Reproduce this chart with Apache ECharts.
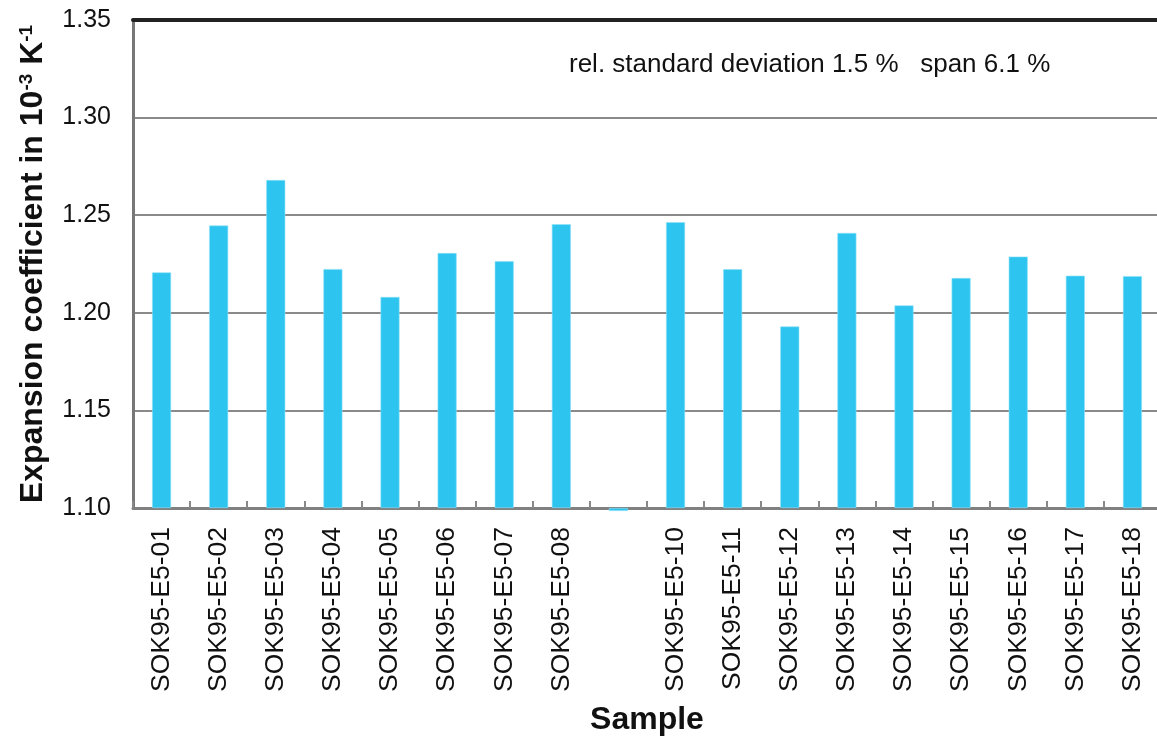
<!DOCTYPE html>
<html>
<head>
<meta charset="utf-8">
<script src="https://cdn.jsdelivr.net/npm/echarts@6/dist/echarts.min.js"></script>
<style>html,body{margin:0;padding:0;background:#fff;}#c{width:1157px;height:736px;}</style>
</head>
<body>
<div id="c"></div>
<script>
var categories = ['SOK95-E5-01','SOK95-E5-02','SOK95-E5-03','SOK95-E5-04','SOK95-E5-05','SOK95-E5-06','SOK95-E5-07','SOK95-E5-08','','SOK95-E5-10','SOK95-E5-11','SOK95-E5-12','SOK95-E5-13','SOK95-E5-14','SOK95-E5-15','SOK95-E5-16','SOK95-E5-17','SOK95-E5-18'];
var values = [1.2207,1.2447,1.2680,1.2224,1.2081,1.2306,1.2264,1.2454,1.0985,1.2464,1.2223,1.1930,1.2409,1.2038,1.2178,1.2288,1.2190,1.2188];
var yTicks = [1.10,1.15,1.20,1.25,1.30,1.35];
var annotation = 'rel. standard deviation 1.5 %   span 6.1 %';
var FONT = '"Liberation Sans", Arial, sans-serif';

var chart = echarts.init(document.getElementById('c'), null, {renderer:'canvas'});
chart.setOption({
  animation:false,
  backgroundColor:'#fff',
  textStyle:{fontFamily:FONT},
  title:{
    text: annotation,
    left: 564, top: 47,
    textStyle:{fontFamily:FONT, fontSize:26, fontWeight:'normal', color:'#111'}
  },
  grid:{left:133, right:-4, top:20, bottom:228, containLabel:false, outerBoundsMode:'none'},
  xAxis:[{
    type:'category',
    data:categories,
    position:'bottom',
    axisLine:{show:true, lineStyle:{color:'#808080', width:3}},
    axisTick:{show:true, inside:true, length:7, lineStyle:{color:'#888', width:2}},
    axisLabel:{rotate:90, fontSize:26.5, color:'#111', margin:19, fontFamily:FONT, interval:0},
    name:'Sample',
    nameLocation:'middle',
    nameGap:196,
    nameTextStyle:{fontSize:32, fontWeight:'bold', color:'#111', fontFamily:FONT}
  },{
    type:'category',
    data:categories,
    position:'top',
    axisLine:{show:true, lineStyle:{color:'#222', width:4}},
    axisTick:{show:false},
    axisLabel:{show:false}
  }],
  yAxis:{
    type:'value',
    min:yTicks[0], max:yTicks[yTicks.length-1], interval:0.05,
    startValue:1.10,
    axisLine:{show:true, lineStyle:{color:'#777', width:3}},
    axisTick:{show:false},
    splitLine:{show:true, lineStyle:{color:'#8a8a8a', width:2}},
    axisLabel:{fontSize:25, color:'#111', margin:22, fontFamily:FONT,
      formatter:function(v){return v.toFixed(2);}},
    name:'{b|Expansion coefficient in 10}{s|-3}{b| K}{s|-1}',
    nameLocation:'middle',
    nameGap:83,
    nameTextStyle:{
      rich:{
        b:{fontSize:32, fontWeight:'bold', color:'#111', fontFamily:FONT},
        s:{fontSize:19, fontWeight:'bold', color:'#111', fontFamily:FONT, verticalAlign:'top', padding:[0,0,14,0]}
      }
    }
  },
  series:[{
    type:'bar',
    data:values,
    barWidth:19,
    clip:false,
    itemStyle:{color:'#2DC5F0', borderColor:'#8fe0f7', borderWidth:0.6}
  }]
});
</script>
</body>
</html>
